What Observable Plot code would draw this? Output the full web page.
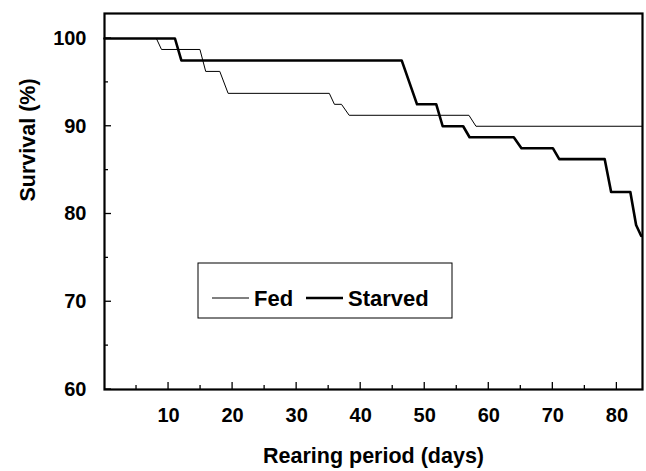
<!DOCTYPE html>
<html><head><meta charset="utf-8">
<script src="https://cdn.jsdelivr.net/npm/d3@7"></script>
<script src="https://cdn.jsdelivr.net/npm/@observablehq/plot@0.6"></script>
<style>body{margin:0;background:#fff}</style>
</head><body><div id="chart"></div>
<script>
// Data (Kaplan–Meier style curves, n = 80)
const fedDays      = [0, 8.1, 8.9, 14.9, 15.8, 18.0, 19.3, 35.1, 35.9, 37.0, 38.2, 56.9, 58.0, 84];
const fedSurvival  = [100, 100, 98.75, 98.75, 96.25, 96.25, 93.75, 93.75, 92.5, 92.5, 91.25, 91.25, 90, 90];
const starvedDays     = [0, 11.0, 12.0, 46.4, 48.8, 51.8, 52.8, 56.0, 57.0, 63.9, 65.1, 70.0, 71.0, 78.1, 79.1, 82.1, 83.0, 83.8];
const starvedSurvival = [100, 100, 97.5, 97.5, 92.5, 92.5, 90, 90, 88.75, 88.75, 87.5, 87.5, 86.25, 86.25, 82.5, 82.5, 78.75, 77.5];
const xMajorTicks = [10, 20, 30, 40, 50, 60, 70, 80];
const xMinorTicks = [5, 15, 25, 35, 45, 55, 65, 75];
const yMajorTicks = [60, 70, 80, 90, 100];
const yMinorTicks = [65, 75, 85, 95];
const seriesNames = ["Fed", "Starved"];
const xTitle = "Rearing period (days)";
const yTitle = "Survival (%)";

const fed = fedDays.map((d, i) => ({day: d, survival: fedSurvival[i]}));
const starved = starvedDays.map((d, i) => ({day: d, survival: starvedSurvival[i]}));

const font = "'Liberation Sans', Arial, sans-serif";
const chart = Plot.plot({
  width: 646, height: 471,
  marginLeft: 104, marginRight: 4, marginTop: 13, marginBottom: 82,
  style: {fontFamily: font, fontWeight: "bold", fontSize: "20px", color: "black", background: "white"},
  x: {domain: [0, 84]},
  y: {domain: [60, 102.85]},
  marks: [
    Plot.axisX(xMajorTicks, {tickSize: 0, tickPadding: 18, label: null, fontSize: 20, fontWeight: "bold"}),
    Plot.axisY(yMajorTicks, {tickSize: 0, tickPadding: 18, label: null, fontSize: 20, fontWeight: "bold"}),
    Plot.line(fed, {x: "day", y: "survival", stroke: "black", strokeWidth: 1}),
    Plot.line(starved, {x: "day", y: "survival", stroke: "black", strokeWidth: 2.6}),
    Plot.frame({stroke: "black", strokeWidth: 2.2}),
    Plot.text([xTitle], {frameAnchor: "bottom", lineAnchor: "middle", dy: 67, fontSize: 21.5, fontWeight: "bold"}),
    Plot.text([yTitle], {frameAnchor: "left", lineAnchor: "middle", dx: -76, rotate: -90, fontSize: 21.5, fontWeight: "bold"})
  ]
});
document.getElementById("chart").appendChild(chart);

// Inward ticks, positioned through Plot's own scales
const sx = chart.scale("x"), sy = chart.scale("y");
const svg = d3.select(chart);
const [fx0, fx1] = sx.range, [fy0, fy1] = sy.range; // fy0 = bottom, fy1 = top
const tk = svg.append("g").attr("stroke", "black").attr("stroke-width", 1.3);
xMajorTicks.forEach(v => tk.append("line").attr("x1", sx.apply(v)).attr("x2", sx.apply(v)).attr("y1", fy0).attr("y2", fy0 - 7));
xMinorTicks.forEach(v => tk.append("line").attr("x1", sx.apply(v)).attr("x2", sx.apply(v)).attr("y1", fy0).attr("y2", fy0 - 4));
yMajorTicks.forEach(v => tk.append("line").attr("y1", sy.apply(v)).attr("y2", sy.apply(v)).attr("x1", fx0).attr("x2", fx0 + 7));
yMinorTicks.forEach(v => tk.append("line").attr("y1", sy.apply(v)).attr("y2", sy.apply(v)).attr("x1", fx0).attr("x2", fx0 + 4));

// Legend box inside the plot (pixel layout)
const lg = svg.append("g").attr("font-family", font).attr("font-weight", "bold").attr("font-size", 22).attr("text-anchor", "start");
lg.append("rect").attr("x", 198).attr("y", 263).attr("width", 254).attr("height", 55)
  .attr("fill", "white").attr("stroke", "black").attr("stroke-width", 1);
const widths = [1, 2.6];
const xs = [212, 306];
seriesNames.forEach((name, i) => {
  lg.append("line").attr("x1", xs[i]).attr("x2", xs[i] + 37).attr("y1", 298).attr("y2", 298)
    .attr("stroke", "black").attr("stroke-width", widths[i]);
  lg.append("text").attr("x", xs[i] + 42).attr("y", 298).attr("dy", "0.35em").text(name);
});
</script>
</body></html>
